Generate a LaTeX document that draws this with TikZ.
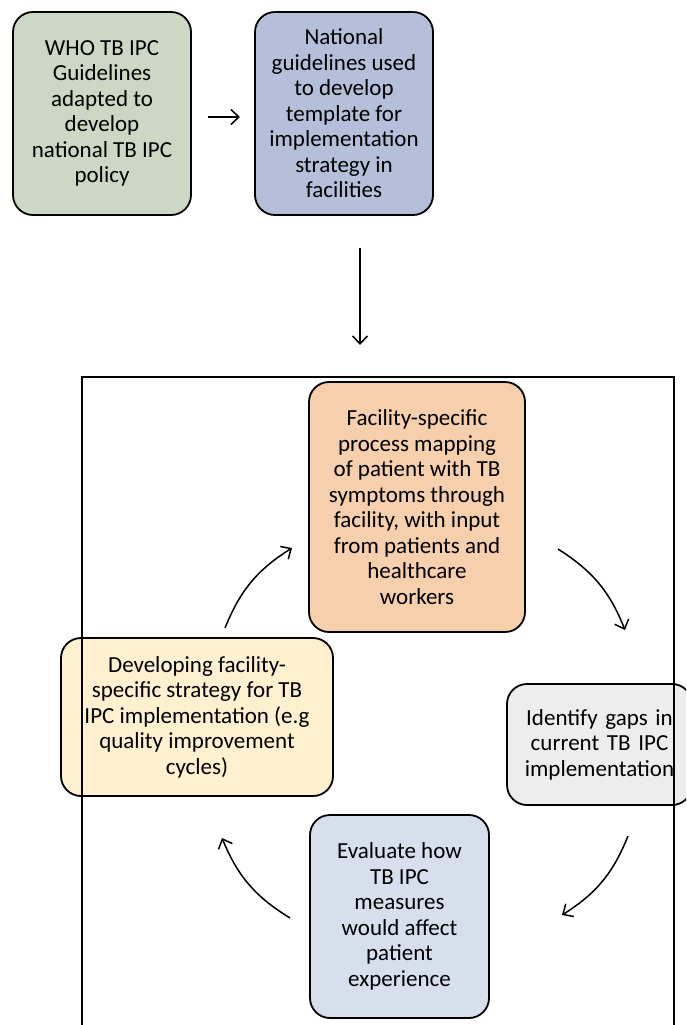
\documentclass[tikz,border=0pt]{standalone}
\usepackage{fontspec}
\setmainfont{Carlito}
\usetikzlibrary{arrows.meta}
\definecolor{cgreen}{RGB}{205,216,196}
\definecolor{cblue}{RGB}{180,191,217}
\definecolor{corange}{RGB}{246,207,173}
\definecolor{cgray}{RGB}{237,237,237}
\definecolor{clblue}{RGB}{215,222,236}
\definecolor{cyellow}{RGB}{255,240,207}
\tikzset{
  box/.style={draw=black, line width=1.8pt, rounded corners=20pt, align=center,
    font=\fontsize{23}{25.5}\selectfont, inner sep=0pt},
  arr/.style={line width=1.5pt, -{Straight Barb[length=8pt,width=15pt,line width=1.5pt]}},
  frame/.style={line width=1.1pt}
}
\begin{document}
\begin{tikzpicture}[x=1pt,y=-1pt]
\useasboundingbox (0,0) rectangle (686,1025);
\clip (0,0) rectangle (686,1025);
\fill[white] (0,0) rectangle (686,1025);
% top boxes
\node[box, fill=cgreen, minimum width=178pt, minimum height=203pt] (who) at (102,113.5)
  {WHO TB IPC\\Guidelines\\adapted to\\develop\\national TB IPC\\policy};
\node[box, fill=cblue, minimum width=178pt, minimum height=203pt] (nat) at (344,113.5)
  {National\\guidelines used\\to develop\\template for\\implementation\\strategy in\\facilities};
% cycle boxes
\node[box, fill=corange, minimum width=216pt, minimum height=250pt] (map) at (417,507)
  {Facility-specific\\process mapping\\of patient with TB\\symptoms through\\facility, with input\\from patients and\\healthcare\\workers};
\node[box, fill=cgray, minimum width=185pt, minimum height=121pt, text width=185pt] (gap) at (599.5,744.5)
  {Identify gaps in\\current TB IPC\\implementation};
\node[box, fill=clblue, minimum width=179pt, minimum height=203pt] (eval) at (399.5,916.5)
  {Evaluate how\\TB IPC\\measures\\would affect\\patient\\experience};
\node[box, fill=cyellow, minimum width=272pt, minimum height=158pt] (dev) at (197,717)
  {Developing facility-\\specific strategy for TB\\IPC implementation (e.g\\quality improvement\\cycles)};
% frame
\coordinate (fbl) at (82,1030);
\coordinate (ftl) at (82,377);
\coordinate (ftr) at (674,377);
\coordinate (fbr) at (674,1030);
\draw[frame] (fbl) -- (ftl) -- (ftr) -- (fbr);
% straight arrows
\coordinate (h1) at (208,117);
\coordinate (h2) at (240,117);
\draw[arr] (h1) -- (h2);
\coordinate (v1) at (360,248);
\coordinate (v2) at (360,345);
\draw[arr] (v1) -- (v2);
% curved arrows
\coordinate (a1s) at (225,628);
\coordinate (a1e) at (292,548);
\coordinate (a2s) at (558,549);
\coordinate (a2e) at (625,630);
\coordinate (a3s) at (628,836);
\coordinate (a3e) at (562,915);
\coordinate (a4s) at (290,918);
\coordinate (a4e) at (222,838);
\draw[arr] (a1s) to[bend left=18] (a1e);
\draw[arr] (a2s) to[bend left=18] (a2e);
\draw[arr] (a3s) to[bend left=18] (a3e);
\draw[arr] (a4s) to[bend left=18] (a4e);
\end{tikzpicture}
\end{document}
